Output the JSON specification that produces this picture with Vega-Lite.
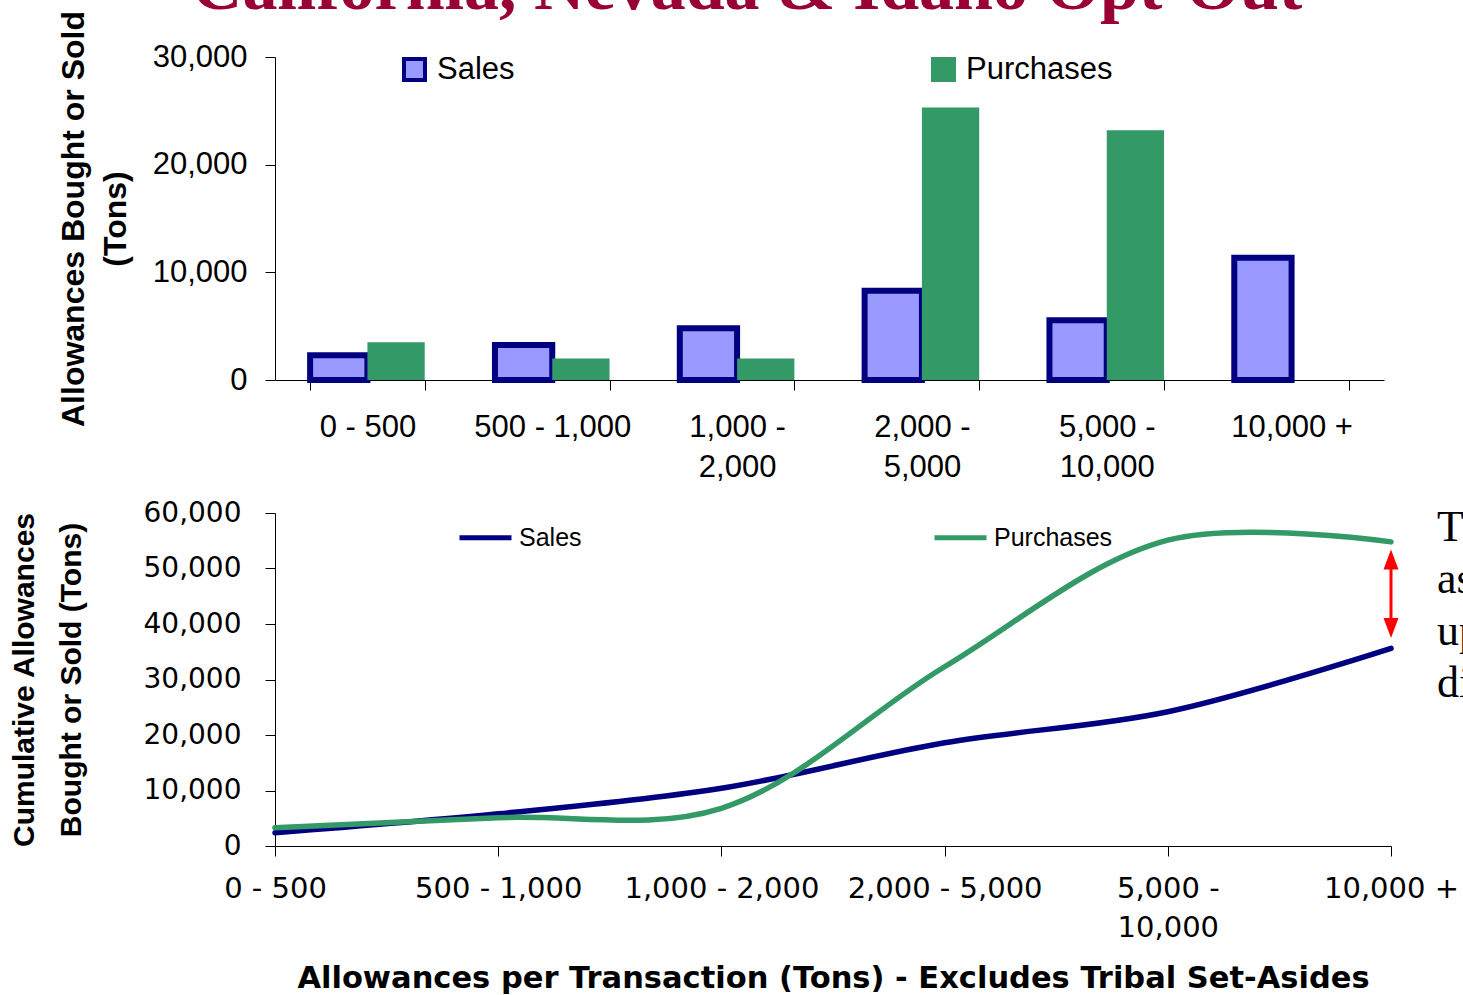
{
  "$schema": "https://vega.github.io/schema/vega-lite/v6.json",
  "autosize": {"type": "pad"},
  "padding": {"left": 9, "top": -47, "right": 0, "bottom": 0},
  "background": "white",
  "title": {"text": "California, Nevada & Idaho Opt-Out", "font": "Liberation Serif", "fontSize": 70, "fontWeight": "bold", "color": "#990033", "anchor": "middle", "offset": 0, "dy": 14, "dx": 2},
  "bounds": "flush",
  "spacing": 133,
  "resolve": {"scale": {"stroke": "independent", "fill": "independent"}, "legend": {"stroke": "independent", "fill": "independent"}},
  "config": {
    "view": {"stroke": null},
    "axis": {"domainColor": "#000000", "tickColor": "#000000", "labelColor": "#000000", "titleColor": "#000000", "grid": false, "labelLimit": 2000, "titleLimit": 2000, "labelOverlap": false}
  },
  "datasets": {
    "bars": [
      {"range": "0 - 500", "series": "Sales", "tons": 2300},
      {"range": "500 - 1,000", "series": "Sales", "tons": 3250},
      {"range": "1,000 - 2,000", "series": "Sales", "tons": 4800},
      {"range": "2,000 - 5,000", "series": "Sales", "tons": 8300},
      {"range": "5,000 - 10,000", "series": "Sales", "tons": 5550},
      {"range": "10,000 +", "series": "Sales", "tons": 11350},
      {"range": "0 - 500", "series": "Purchases", "tons": 3500},
      {"range": "500 - 1,000", "series": "Purchases", "tons": 2000},
      {"range": "1,000 - 2,000", "series": "Purchases", "tons": 2000},
      {"range": "2,000 - 5,000", "series": "Purchases", "tons": 25300},
      {"range": "5,000 - 10,000", "series": "Purchases", "tons": 23200},
      {"range": "10,000 +", "series": "Purchases", "tons": 0}
    ],
    "cumulative": [
      {"range": "0 - 500", "series": "Sales", "tons": 2400},
      {"range": "500 - 1,000", "series": "Sales", "tons": 5800},
      {"range": "1,000 - 2,000", "series": "Sales", "tons": 10400},
      {"range": "2,000 - 5,000", "series": "Sales", "tons": 18600},
      {"range": "5,000 - 10,000", "series": "Sales", "tons": 24200},
      {"range": "10,000 +", "series": "Sales", "tons": 35600},
      {"range": "0 - 500", "series": "Purchases", "tons": 3300},
      {"range": "500 - 1,000", "series": "Purchases", "tons": 5100},
      {"range": "1,000 - 2,000", "series": "Purchases", "tons": 6800},
      {"range": "2,000 - 5,000", "series": "Purchases", "tons": 32300},
      {"range": "5,000 - 10,000", "series": "Purchases", "tons": 55100},
      {"range": "10,000 +", "series": "Purchases", "tons": 54800}
    ]
  },
  "vconcat": [
    {
      "width": 1109,
      "height": 323,
      "data": {"name": "bars"},
      "mark": {"type": "bar", "strokeJoin": "miter"},
      "encoding": {
        "x": {
          "field": "range", "type": "nominal",
          "sort": ["0 - 500", "500 - 1,000", "1,000 - 2,000", "2,000 - 5,000", "5,000 - 10,000", "10,000 +"],
          "scale": {"paddingInner": 0.38, "paddingOuter": 0.19},
          "axis": {
            "title": null, "labelAngle": 0, "labelFont": "Liberation Sans", "labelFontSize": 31,
            "labelPadding": 22, "tickSize": 10, "tickBand": "extent", "labelLineHeight": 40, "labelBaseline": "top",
            "labelExpr": "datum.value == '1,000 - 2,000' ? ['1,000 -', '2,000'] : datum.value == '2,000 - 5,000' ? ['2,000 -', '5,000'] : datum.value == '5,000 - 10,000' ? ['5,000 -', '10,000'] : datum.value"
          }
        },
        "xOffset": {"field": "series", "type": "nominal", "sort": ["Sales", "Purchases"], "scale": {"paddingInner": 0, "paddingOuter": 0}},
        "y": {
          "field": "tons", "type": "quantitative",
          "scale": {"domain": [0, 30000]},
          "axis": {
            "title": ["Allowances Bought or Sold", "(Tons)"], "titleFont": "Liberation Sans", "titleFontSize": 32,
            "titleFontWeight": "bold", "titleLineHeight": 42, "titlePadding": 20,
            "values": [0, 10000, 20000, 30000], "format": ",.0f", "labelFont": "Liberation Sans", "labelFontSize": 31,
            "labelPadding": 18, "tickSize": 10
          }
        },
        "fill": {
          "field": "series", "type": "nominal", "sort": ["Sales", "Purchases"],
          "scale": {"domain": ["Sales", "Purchases"], "range": ["#9999FF", "#339966"]},
          "legend": {"title": null, "orient": "none", "legendX": 124, "legendY": -3, "direction": "horizontal", "symbolType": "square", "symbolSize": 441, "symbolStrokeWidth": 4, "labelFont": "Liberation Sans", "labelFontSize": 31, "labelColor": "#000000", "labelOffset": 7, "columnPadding": 410, "padding": 0}
        },
        "stroke": {
          "field": "series", "type": "nominal", "sort": ["Sales", "Purchases"],
          "scale": {"domain": ["Sales", "Purchases"], "range": ["#000080", "#339966"]},
          "legend": {"title": null, "orient": "none", "legendX": 124, "legendY": -3, "direction": "horizontal", "symbolType": "square", "symbolSize": 441, "symbolStrokeWidth": 4, "labelFont": "Liberation Sans", "labelFontSize": 31, "labelColor": "#000000", "labelOffset": 7, "columnPadding": 410, "padding": 0}
        },
        "strokeWidth": {"condition": {"test": "datum.series === 'Sales'", "value": 6}, "value": 0}
      }
    },
    {
      "width": 1116,
      "height": 333,
      "layer": [
        {
          "data": {"name": "cumulative"},
          "mark": {"type": "line", "interpolate": "catmull-rom", "strokeWidth": 5.5, "strokeCap": "round"},
          "encoding": {
            "x": {
              "field": "range", "type": "nominal",
              "sort": ["0 - 500", "500 - 1,000", "1,000 - 2,000", "2,000 - 5,000", "5,000 - 10,000", "10,000 +"],
              "scale": {"type": "point", "padding": 0},
              "axis": {
                "title": "Allowances per Transaction (Tons) - Excludes Tribal Set-Asides",
                "titleFont": "DejaVu Sans", "titleFontSize": 30.5, "titleFontWeight": "bold", "titlePadding": 21,
                "labelAngle": 0, "labelFont": "DejaVu Sans", "labelFontSize": 29, "labelPadding": 18,
                "labelLineHeight": 39, "labelBaseline": "top", "tickSize": 10,
                "labelExpr": "datum.value == '5,000 - 10,000' ? ['5,000 -', '10,000'] : datum.value"
              }
            },
            "y": {
              "field": "tons", "type": "quantitative",
              "scale": {"domain": [0, 60000]},
              "axis": {
                "title": ["Cumulative Allowances", "Bought or Sold (Tons)"], "titleFont": "Liberation Sans",
                "titleFontSize": 30, "titleFontWeight": "bold", "titleLineHeight": 47, "titlePadding": 57,
                "values": [0, 10000, 20000, 30000, 40000, 50000, 60000], "format": ",.0f",
                "labelFont": "DejaVu Sans", "labelFontSize": 28, "labelPadding": 24, "tickSize": 10
              }
            },
            "stroke": {
              "field": "series", "type": "nominal", "sort": ["Sales", "Purchases"],
              "scale": {"domain": ["Sales", "Purchases"], "range": ["#000080", "#339966"]},
              "legend": {"title": null, "orient": "none", "legendX": 182, "legendY": -4, "direction": "horizontal", "symbolType": "stroke", "symbolSize": 2704, "symbolStrokeWidth": 5, "labelFont": "Liberation Sans", "labelFontSize": 25, "labelColor": "#000000", "labelOffset": 5, "columnPadding": 342, "padding": 0}
            }
          }
        },
        {
          "data": {"values": [{}]},
          "mark": {"type": "rule", "color": "#FF0000", "strokeWidth": 3},
          "encoding": {"x": {"datum": "10,000 +"}, "y": {"datum": 51600}, "y2": {"datum": 39300}}
        },
        {
          "data": {"values": [{}]},
          "mark": {"type": "point", "shape": "M0,-1L0.75,1L-0.75,1Z", "filled": true, "color": "#FF0000", "size": 400, "opacity": 1},
          "encoding": {"x": {"datum": "10,000 +"}, "y": {"datum": 51600}}
        },
        {
          "data": {"values": [{}]},
          "mark": {"type": "point", "shape": "M0,1L0.75,-1L-0.75,-1Z", "filled": true, "color": "#FF0000", "size": 400, "opacity": 1},
          "encoding": {"x": {"datum": "10,000 +"}, "y": {"datum": 39300}}
        },
        {
          "data": {"values": [{}]},
          "mark": {"type": "text", "font": "Liberation Serif", "fontSize": 44, "align": "left", "baseline": "alphabetic", "lineHeight": 52, "dx": 46, "color": "#000000"},
          "encoding": {"x": {"datum": "10,000 +"}, "y": {"datum": 55000}, "text": {"value": ["T", "as", "up", "di"]}}
        }
      ]
    }
  ]
}
